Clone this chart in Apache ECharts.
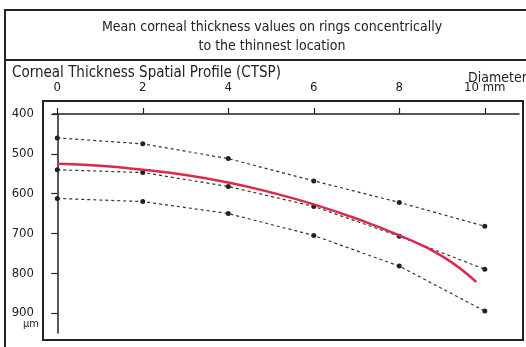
<!DOCTYPE html>
<html><head><meta charset="utf-8">
<script src="https://cdn.jsdelivr.net/npm/echarts@6/dist/echarts.min.js"></script>
<style>html,body{margin:0;padding:0;background:#fff}#c{width:526px;height:347px}</style>
</head><body><div id="c"></div>
<script>
var diameters = [0, 2, 4, 6, 8, 10];
var upperValues = [460, 475, 512, 568, 622, 682];
var meanValues = [540, 547, 582, 632, 707, 790];
var lowerValues = [612, 620, 650, 705, 782, 895];
var patientDiam = [0, 1, 2, 3, 4, 5, 6, 7, 8, 9, 9.8];
var patientValues = [525, 530, 540, 553, 572, 597, 627, 663, 705, 757, 822];
var yTicks = [400, 500, 600, 700, 800, 900];
var xTicks = [0, 2, 4, 6, 8, 10];

var FONT = "'Liberation Sans Narrow','DejaVu Sans Condensed',sans-serif";
function pairs(xs, ys){ return xs.map(function(x,i){ return [x, ys[i]]; }); }
function dotted(vals){
  return {type:'line', data: pairs(diameters, vals), symbol:'circle', symbolSize:5,
    itemStyle:{color:'#222'}, lineStyle:{color:'#333', width:1.2, type:[3,3]}, z:3};
}
var chart = echarts.init(document.getElementById('c'), null, {renderer:'canvas'});
chart.setOption({
  backgroundColor:'#fff',
  animation:false,
  grid:{left:53, right:7, top:114, bottom:14},
  xAxis:{type:'value', position:'top', min:-0.1, max:10.8,
    axisLine:{onZero:false, lineStyle:{color:'#222', width:1.5}},
    axisTick:{customValues:xTicks, length:6, lineStyle:{color:'#222', width:1.2}},
    axisLabel:{customValues:xTicks, margin:20, color:'#222', fontFamily:FONT, fontSize:13,
      formatter:function(v){ return v===10 ? '10 mm' : String(v); }},
    splitLine:{show:false}},
  yAxis:{type:'value', inverse:true, min:400, max:950,
    axisLine:{show:true, onZero:true, lineStyle:{color:'#222', width:1.5}},
    axisTick:{show:true, customValues:yTicks, length:6, lineStyle:{color:'#222', width:1.2}},
    axisLabel:{customValues:yTicks, margin:19, color:'#222', fontFamily:FONT, fontSize:13},
    splitLine:{show:false}},
  series:[
    dotted(upperValues), dotted(meanValues), dotted(lowerValues),
    {type:'line', data: pairs(patientDiam, patientValues), smooth:true, symbol:'none',
      lineStyle:{color:'#dc2a4e', width:2.5}, z:4}
  ],
  graphic:[
    {type:'rect', shape:{x:5, y:10, width:530, height:345}, style:{fill:'none', stroke:'#222', lineWidth:2}, silent:true},
    {type:'line', shape:{x1:5, y1:60, x2:526, y2:60}, style:{stroke:'#222', lineWidth:2}},
    {type:'rect', shape:{x:43, y:101, width:480, height:239}, style:{fill:'none', stroke:'#222', lineWidth:2}},
    {type:'text', x:272, y:27, style:{text:'Mean corneal thickness values on rings concentrically', fill:'#222', font:'14px '+FONT, textAlign:'center', textVerticalAlign:'middle'}},
    {type:'text', x:272, y:46, style:{text:'to the thinnest location', fill:'#222', font:'14px '+FONT, textAlign:'center', textVerticalAlign:'middle'}},
    {type:'text', x:12, y:73, style:{text:'Corneal Thickness Spatial Profile (CTSP)', fill:'#222', font:'15px '+FONT, textAlign:'left', textVerticalAlign:'middle'}},
    {type:'text', x:468, y:78, style:{text:'Diameter', fill:'#222', font:'14px '+FONT, textAlign:'left', textVerticalAlign:'middle'}},
    {type:'text', x:23, y:324, style:{text:'μm', fill:'#222', font:'11px '+FONT, textAlign:'left', textVerticalAlign:'middle'}}
  ]
});
</script></body></html>
